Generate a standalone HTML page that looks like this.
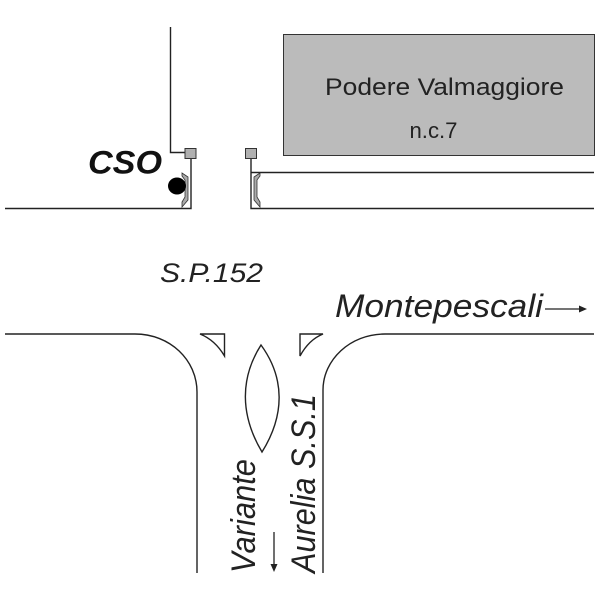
<!DOCTYPE html>
<html>
<head>
<meta charset="utf-8">
<style>
html,body{margin:0;padding:0;background:#fff}
svg{display:block}
text{font-family:"Liberation Sans",sans-serif;fill:#222}
</style>
</head>
<body>
<svg width="600" height="600" viewBox="0 0 600 600" xmlns="http://www.w3.org/2000/svg">
<rect x="283.500" y="34.500" width="311" height="121" fill="#bbb" stroke="#333" stroke-width="1"/>
<text x="325" y="95" font-size="24" textLength="239" lengthAdjust="spacingAndGlyphs">Podere Valmaggiore</text>
<text x="409.500" y="138" font-size="22" textLength="48" lengthAdjust="spacingAndGlyphs">n.c.7</text>

<g fill="none" stroke="#222" stroke-width="1.400">
<path d="M170.500 27V152.500H185"/>
<path d="M191 158V208.500H5"/>
<path d="M251 158V208.500H594"/>
<path d="M251 172.500H594"/>
<path d="M5 334H135C170 334 197 360 197 392V573"/>
<path d="M323 573V390C323 360 350 334 385 334H594"/>
<path d="M200 334H224.500V356C218 345 210 338 200 334Z"/>
<path d="M323 334H300V356C306 345 313 338 323 334Z"/>
<path d="M261 345C240 378 240 415 262 452C285 415 285 378 261 345Z"/>
</g>

<rect x="185" y="148.500" width="11" height="10" fill="#b0b0b0" stroke="#333"/>
<rect x="245.500" y="148.500" width="11" height="10" fill="#b0b0b0" stroke="#333"/>

<path d="M182 173L188 177V200L182 207L182 202L185 197V180L182 176Z" fill="#aaa" stroke="#333" stroke-width=".8"/>
<path d="M260 173L254 177V200L260 207L260 202L257 197V180L260 176Z" fill="#aaa" stroke="#333" stroke-width=".8"/>

<ellipse cx="177" cy="186" rx="9" ry="8.500" fill="#000"/>

<text x="88" y="173.500" font-size="32" font-weight="bold" font-style="italic" style="fill:#111" textLength="74" lengthAdjust="spacingAndGlyphs">CSO</text>
<text x="160" y="282" font-size="26.500" font-style="italic" textLength="103" lengthAdjust="spacingAndGlyphs">S.P.152</text>
<text x="335" y="317" font-size="32" font-style="italic" textLength="208" lengthAdjust="spacingAndGlyphs">Montepescali</text>
<path d="M545 309H580" stroke="#222" stroke-width="1.300"/>
<path d="M579 305.500L587 309L579 312.500Z" fill="#222"/>

<text transform="translate(255,573) rotate(-90)" font-size="34" font-style="italic" textLength="114" lengthAdjust="spacingAndGlyphs">Variante</text>
<text transform="translate(315,573) rotate(-90)" font-size="34" font-style="italic" textLength="179" lengthAdjust="spacingAndGlyphs">Aurelia S.S.1</text>
<path d="M274 532V565" stroke="#222" stroke-width="1.300"/>
<path d="M270.500 564L274 572L277.500 564Z" fill="#222"/>
</svg>
</body>
</html>
